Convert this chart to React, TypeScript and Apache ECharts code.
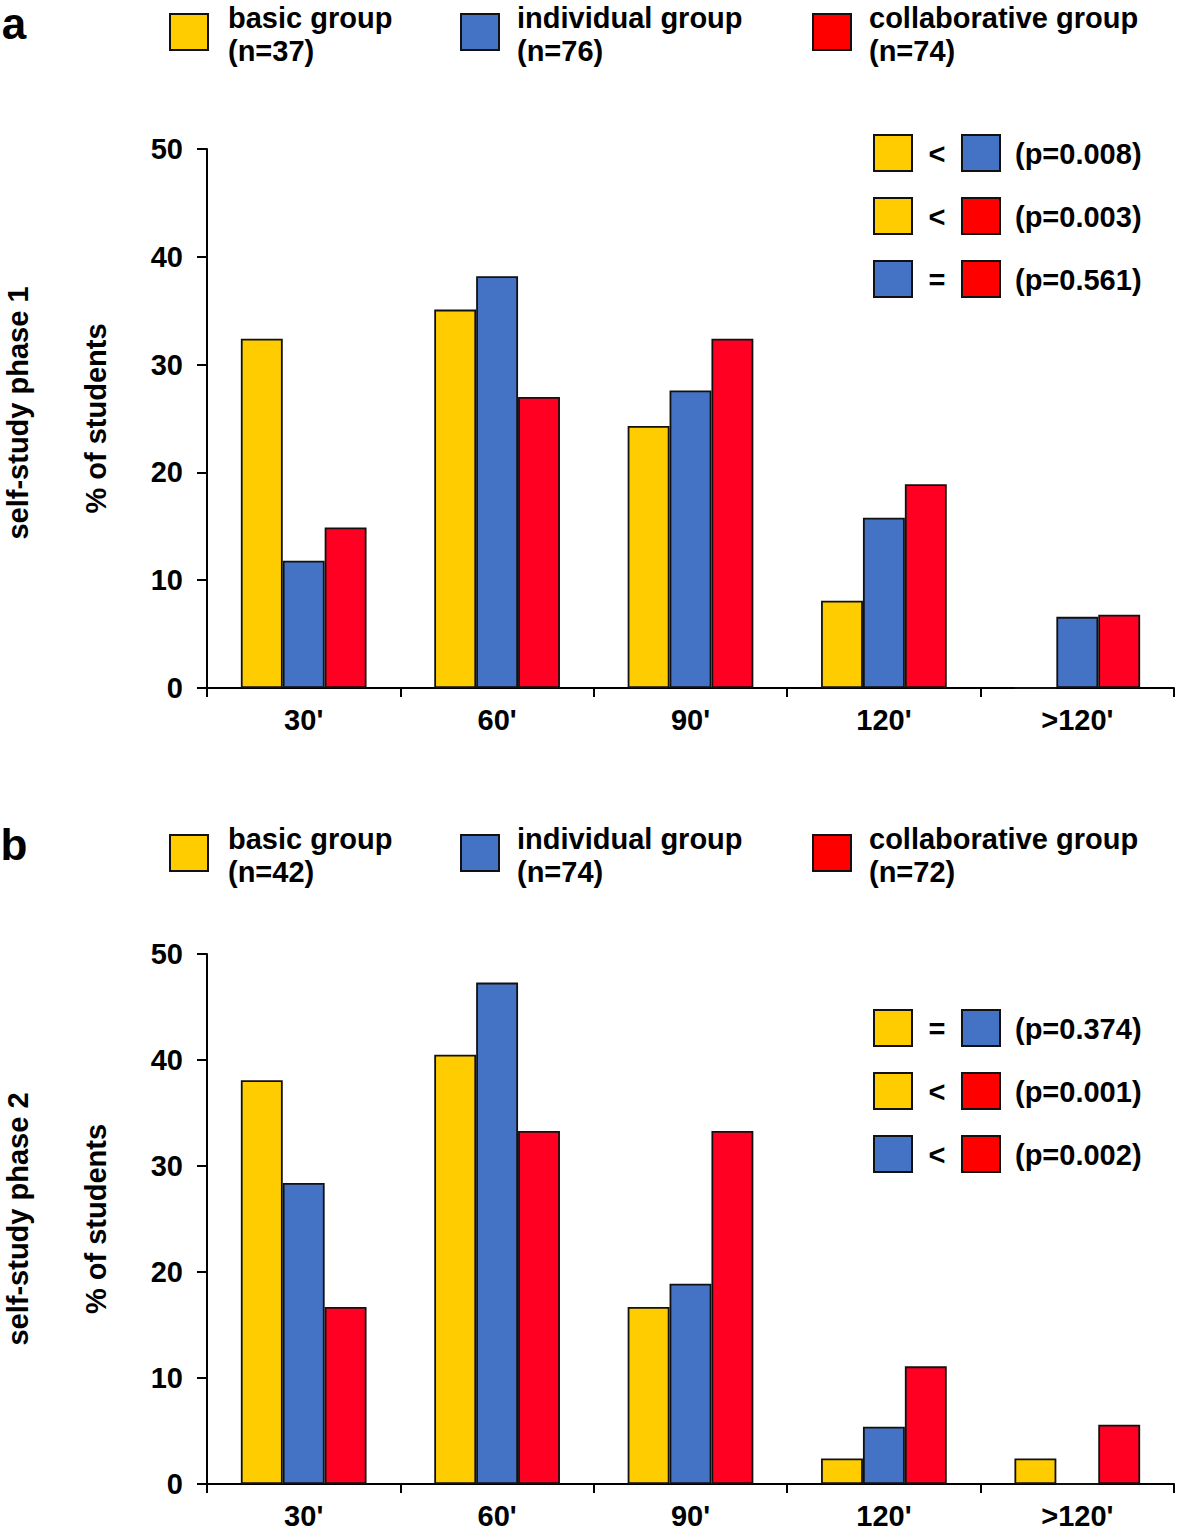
import React, { useEffect, useRef } from "react";
import * as echarts from "echarts";

const categories = ["30'", "60'", "90'", "120'", ">120'"];
const groupNames = ["basic group", "individual group", "collaborative group"];
const nPhase1 = [37, 76, 74];
const nPhase2 = [42, 74, 72];

const basic1 = [32.4, 35.1, 24.3, 8.1, 0];
const individual1 = [11.8, 38.2, 27.6, 15.8, 6.6];
const collaborative1 = [14.9, 27.0, 32.4, 18.9, 6.8];

const basic2 = [38.1, 40.5, 16.7, 2.4, 2.4];
const individual2 = [28.4, 47.3, 18.9, 5.4, 0];
const collaborative2 = [16.7, 33.3, 33.3, 11.1, 5.6];

// significance comparisons: [left group index, symbol, right group index, p]
const sig1: [number, string, number, string][] = [
  [0, "<", 1, "0.008"],
  [0, "<", 2, "0.003"],
  [1, "=", 2, "0.561"],
];
const sig2: [number, string, number, string][] = [
  [0, "=", 1, "0.374"],
  [0, "<", 2, "0.001"],
  [1, "<", 2, "0.002"],
];

const barColors = ["#FFCC00", "#4472C4", "#FF0022"];
const legendColors = ["#FFCC00", "#4472C4", "#FF0000"];
const FONT = "'Liberation Sans', Arial, Helvetica, sans-serif";
const FS = 29;

function panelGraphics(
  letter: string,
  ns: number[],
  sig: [number, string, number, string][],
  phaseLabel: string,
  panelTop: number,
  sigTop: number,
  axisMid: number
) {
  const els: any[] = [];
  els.push({
    type: "text",
    x: 14,
    y: panelTop + 1,
    style: {
      text: letter,
      font: `bold 44px ${FONT}`,
      lineHeight: 44,
      fill: "#000",
      textAlign: "center",
      textVerticalAlign: "top",
    },
  });
  const sqX = [170, 461, 813];
  const txX = [228, 517, 869];
  for (let i = 0; i < 3; i++) {
    els.push({
      type: "rect",
      shape: { x: sqX[i], y: panelTop + 14, width: 38, height: 36 },
      style: { fill: legendColors[i], stroke: "#111", lineWidth: 2 },
    });
    els.push({
      type: "text",
      x: txX[i],
      y: panelTop + 1,
      style: {
        text: `${groupNames[i]}\n(n=${ns[i]})`,
        font: `bold ${FS}px ${FONT}`,
        lineHeight: 33,
        fill: "#000",
        textAlign: "left",
        textVerticalAlign: "top",
      },
    });
  }
  sig.forEach((row, r) => {
    const cy = sigTop + r * 63;
    els.push({
      type: "rect",
      shape: { x: 874, y: cy - 18, width: 38, height: 36 },
      style: { fill: legendColors[row[0]], stroke: "#111", lineWidth: 2 },
    });
    els.push({
      type: "text",
      x: 937,
      y: cy + 1,
      style: {
        text: row[1],
        font: `bold ${FS}px ${FONT}`,
        fill: "#000",
        textAlign: "center",
        textVerticalAlign: "middle",
      },
    });
    els.push({
      type: "rect",
      shape: { x: 962, y: cy - 18, width: 38, height: 36 },
      style: { fill: legendColors[row[2]], stroke: "#111", lineWidth: 2 },
    });
    els.push({
      type: "text",
      x: 1015,
      y: cy + 1,
      style: {
        text: `(p=${row[3]})`,
        font: `bold ${FS}px ${FONT}`,
        fill: "#000",
        textAlign: "left",
        textVerticalAlign: "middle",
      },
    });
  });
  els.push({
    type: "text",
    x: 18,
    y: axisMid,
    rotation: Math.PI / 2,
    style: {
      text: phaseLabel,
      font: `bold ${FS}px ${FONT}`,
      fill: "#000",
      textAlign: "center",
      textVerticalAlign: "middle",
    },
  });
  return els;
}

export default function App() {
  const ref = useRef<HTMLDivElement>(null);
  useEffect(() => {
    if (!ref.current) return;
    const chart = echarts.init(ref.current, null, { renderer: "svg" });
    const axisLabelStyle = {
      color: "#000",
      fontWeight: "bold" as const,
      fontSize: FS,
      fontFamily: FONT,
    };
    const mkX = (gi: number) => ({
      type: "category",
      gridIndex: gi,
      data: categories,
      boundaryGap: true,
      axisLine: { lineStyle: { color: "#000", width: 2 } },
      axisTick: { show: true, length: 9, lineStyle: { color: "#000", width: 2 } },
      axisLabel: { ...axisLabelStyle, margin: 17 },
      splitLine: { show: false },
    });
    const mkY = (gi: number) => ({
      type: "value",
      gridIndex: gi,
      min: 0,
      max: 50,
      interval: 10,
      name: "% of students",
      nameLocation: "middle",
      nameRotate: 90,
      nameGap: 97,
      nameTextStyle: { ...axisLabelStyle },
      axisLine: { show: true, lineStyle: { color: "#000", width: 2 } },
      axisTick: { show: true, length: 10, lineStyle: { color: "#000", width: 2 } },
      axisLabel: { ...axisLabelStyle, margin: 24 },
      splitLine: { show: false },
    });
    const mkBar = (name: string, data: number[], ci: number, gi: number) => ({
      type: "bar",
      name,
      data,
      xAxisIndex: gi,
      yAxisIndex: gi,
      barGap: "0%",
      barCategoryGap: "35%",
      itemStyle: { color: barColors[ci], borderColor: "#111", borderWidth: 1.8 },
    });
    chart.setOption({
      animation: false,
      backgroundColor: "#fff",
      grid: [
        { left: 207, top: 149, width: 967, height: 539 },
        { left: 207, top: 954, width: 967, height: 530 },
      ],
      xAxis: [mkX(0), mkX(1)],
      yAxis: [mkY(0), mkY(1)],
      series: [
        mkBar(groupNames[0], basic1, 0, 0),
        mkBar(groupNames[1], individual1, 1, 0),
        mkBar(groupNames[2], collaborative1, 2, 0),
        mkBar(groupNames[0], basic2, 0, 1),
        mkBar(groupNames[1], individual2, 1, 1),
        mkBar(groupNames[2], collaborative2, 2, 1),
      ],
      graphic: [
        ...panelGraphics("a", nPhase1, sig1, "self-study phase 1", 0, 153, 413),
        ...panelGraphics("b", nPhase2, sig2, "self-study phase 2", 821, 1028, 1219),
      ],
    });
    return () => chart.dispose();
  }, []);
  return (
    <div
      ref={ref}
      style={{ position: "absolute", left: 0, top: 0, width: 1181, height: 1532, background: "#fff" }}
    />
  );
}
